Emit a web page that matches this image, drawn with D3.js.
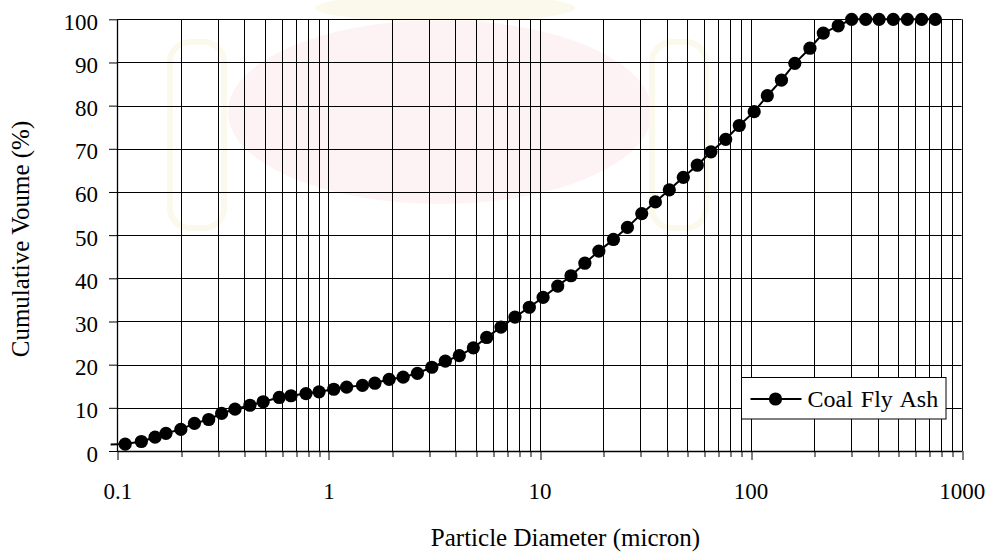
<!DOCTYPE html>
<html>
<head>
<meta charset="utf-8">
<script src="https://cdn.jsdelivr.net/npm/d3@7/dist/d3.min.js"></script>
<style>
  html, body { margin: 0; padding: 0; background: #fff; }
  svg { display: block; }
  text { font-family: "Liberation Serif", "Times New Roman", "DejaVu Serif", serif; fill: #000; }
</style>
</head>
<body>
<svg id="chart" width="993" height="553"></svg>
<script>
// Particle size distribution: cumulative volume (%) vs particle diameter (micron)
const seriesName = "Coal Fly Ash";
const diameter = [0.093, 0.109, 0.130, 0.151, 0.170, 0.200, 0.232, 0.271, 0.312, 0.361,
  0.425, 0.491, 0.585, 0.665, 0.783, 0.903, 1.06, 1.22, 1.45, 1.66,
  1.94, 2.26, 2.64, 3.09, 3.58, 4.17, 4.86, 5.62, 6.57, 7.65,
  8.95, 10.4, 12.2, 14.1, 16.4, 19.1, 22.4, 26.1, 30.5, 35.4,
  41.2, 48.0, 55.9, 64.9, 76.2, 88.4, 104, 120, 140, 162,
  191, 221, 260, 301, 351, 406, 474, 553, 646, 750];
const cumulative = [1.5, 1.6, 2.2, 3.2, 4.1, 5.0, 6.4, 7.3, 8.7, 9.7,
  10.6, 11.4, 12.4, 12.8, 13.3, 13.7, 14.3, 14.8, 15.2, 15.7,
  16.6, 17.1, 18.0, 19.4, 20.8, 22.1, 23.9, 26.3, 28.7, 31.0,
  33.3, 35.6, 38.2, 40.6, 43.5, 46.3, 49.0, 51.8, 55.0, 57.7,
  60.5, 63.4, 66.2, 69.3, 72.2, 75.4, 78.6, 82.3, 85.9, 89.8,
  93.3, 96.8, 98.5, 100, 100, 100, 100, 100, 100, 100];
const xDecades = [0.1, 1, 10, 100, 1000];
const yTicks = [0, 10, 20, 30, 40, 50, 60, 70, 80, 90, 100];
const xTitle = "Particle Diameter (micron)";
const yTitle = "Cumulative Voume (%)";

const data = diameter.map((d, i) => ({ d, v: cumulative[i] }));

const svg = d3.select("#chart");
const plot = { left: 117.3, right: 961.7, top: 19.3, bottom: 451 };
const serif = "'Liberation Serif', 'Times New Roman', 'DejaVu Serif', serif";

const x = d3.scaleLog().domain([xDecades[0], xDecades[xDecades.length - 1]]).range([plot.left, plot.right]);
const y = d3.scaleLinear().domain([0, 100]).range([plot.bottom, plot.top]);

// faint background emblem
const wm = svg.append("g").attr("class", "emblem");
wm.append("ellipse").attr("cx", 440).attr("cy", 112).attr("rx", 212).attr("ry", 92)
  .attr("fill", "#fdf3f5");
wm.append("ellipse").attr("cx", 445).attr("cy", 8).attr("rx", 130).attr("ry", 14)
  .attr("fill", "#fbf8ec");
[[170, 42], [652, 42]].forEach(([px, py]) => {
  wm.append("rect").attr("x", px).attr("y", py).attr("width", 54).attr("height", 186)
    .attr("rx", 20).attr("fill", "none").attr("stroke", "#fbf8ec").attr("stroke-width", 6);
});

const crisp = v => Math.round(v) + 0.5;

// grid
const minorX = [];
for (let k = -1; k < 3; k++) for (let m = 1; m < 10; m++) minorX.push(m * Math.pow(10, k));
minorX.push(1000);
const grid = svg.append("g").attr("class", "grid");
grid.selectAll("line.v").data(minorX).join("line").attr("class", "v")
  .attr("x1", d => crisp(x(d))).attr("x2", d => crisp(x(d)))
  .attr("y1", plot.top).attr("y2", plot.bottom)
  .attr("stroke", "#000").attr("stroke-width", 1);
grid.selectAll("line.h").data(yTicks).join("line").attr("class", "h")
  .attr("x1", plot.left).attr("x2", plot.right)
  .attr("y1", d => crisp(y(d))).attr("y2", d => crisp(y(d)))
  .attr("stroke", "#000").attr("stroke-width", 1);

// x axis
const isDecade = d => xDecades.some(t => Math.abs(t - d) / t < 1e-9);
const xAxis = svg.append("g").attr("transform", `translate(0,${crisp(plot.bottom) - 0.5})`)
  .attr("font-family", serif)
  .call(d3.axisBottom(x).tickValues(minorX).tickSizeOuter(0)
    .tickFormat(d => isDecade(d) ? String(d) : ""));
xAxis.attr("font-family", serif);
xAxis.select(".domain").attr("stroke", "#000").attr("stroke-width", 1.3);
xAxis.selectAll(".tick line").attr("y2", d => isDecade(d) ? 9 : 6)
  .attr("transform", d => `translate(${crisp(x(d)) - x(d)},0)`);
xAxis.selectAll(".tick text").attr("y", 48).attr("dy", 0)
  .style("font-family", serif).style("font-size", "23px");

// y axis
const yAxis = svg.append("g").attr("transform", `translate(${crisp(plot.left) - 0.5},0)`)
  .call(d3.axisLeft(y).tickValues(yTicks).tickSize(8).tickSizeOuter(0).tickFormat(d3.format("d")));
yAxis.attr("font-family", serif);
yAxis.select(".domain").attr("stroke", "#000").attr("stroke-width", 1.3);
yAxis.selectAll(".tick text").attr("x", -19).attr("dy", 10)
  .style("font-family", serif).style("font-size", "23px");

// titles
svg.append("text").attr("x", 565.5).attr("y", 546).attr("text-anchor", "middle")
  .style("font-family", serif).style("font-size", "25px").text(xTitle);
svg.append("text").attr("transform", "translate(29,239) rotate(-90)").attr("text-anchor", "middle")
  .style("font-family", serif).style("font-size", "25px").text(yTitle);

// series
const line = d3.line().x(d => x(d.d)).y(d => y(d.v));
svg.append("path").datum(data).attr("d", line)
  .attr("fill", "none").attr("stroke", "#000").attr("stroke-width", 2);
svg.append("g").selectAll("circle").data(data.filter(d => d.d >= xDecades[0])).join("circle")
  .attr("cx", d => x(d.d)).attr("cy", d => y(d.v)).attr("r", 6.6).attr("fill", "#000");

// legend
const lg = svg.append("g").attr("transform", "translate(741.5,377.5)");
lg.append("rect").attr("width", 204.5).attr("height", 41.5)
  .attr("fill", "#fff").attr("stroke", "#000").attr("stroke-width", 1);
lg.append("line").attr("x1", 9).attr("x2", 60).attr("y1", 21.5).attr("y2", 21.5)
  .attr("stroke", "#000").attr("stroke-width", 2);
lg.append("circle").attr("cx", 34).attr("cy", 21.5).attr("r", 6.6).attr("fill", "#000");
lg.append("text").attr("x", 66).attr("y", 29)
  .style("font-family", serif).style("font-size", "24px")
  .attr("word-spacing", 2).text(seriesName);
</script>
</body>
</html>
